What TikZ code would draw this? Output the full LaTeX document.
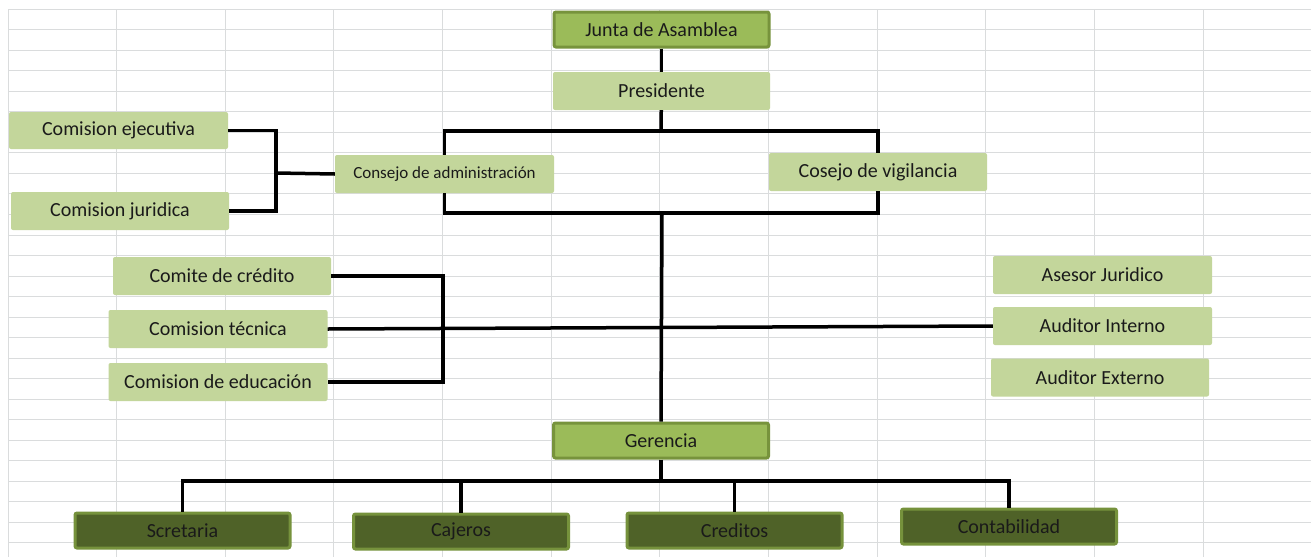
\documentclass[tikz,border=0pt]{standalone}
\usepackage{fontspec}
\setmainfont{Carlito}
\usepackage{xcolor}
\definecolor{gridgray}{HTML}{DADCDD}
\definecolor{palegreen}{HTML}{C3D69B}
\definecolor{midgreen}{HTML}{9BBB59}
\definecolor{midedge}{HTML}{77933C}
\definecolor{darkgreen}{HTML}{4F6228}
\definecolor{darkedge}{HTML}{76923C}
\definecolor{inktext}{HTML}{1A1A1A}
\usetikzlibrary{calc}

\begin{document}
\begin{tikzpicture}[
  x=1pt,y=-1pt,
  every node/.style={font=\fontsize{20}{23}\selectfont,text=inktext,align=center,inner sep=0pt},
  gridline/.style={draw=gridgray,line width=1pt},
  pale/.style={fill=palegreen,rounded corners=2pt,minimum width=218pt,minimum height=38pt},
  mid/.style={fill=midgreen,draw=midedge,line width=3pt,rounded corners=2pt,minimum width=215pt,minimum height=35pt},
  dark/.style={fill=darkgreen,draw=darkedge,line width=3pt,rounded corners=2pt,minimum width=215pt,minimum height=35pt},
  ln/.style={draw=black,line width=3.5pt}
]
\useasboundingbox (0,0) rectangle (1311,557);
\fill[white] (0,0) rectangle (1311,557);
% spreadsheet grid
\foreach \i in {0,...,11} \draw[gridline] ({8+108.65*\i},9.3) -- ({8+108.65*\i},557);
\foreach \j in {0,...,26} \draw[gridline] (8,{9.3+20.52*\j}) -- (1311,{9.3+20.52*\j});

% top of the chart
\node[mid] (junta) at (661.5,29.5) {Junta de Asamblea};
\node[pale,minimum width=217pt] (pres) at (661.5,91) {Presidente};
\node[pale,minimum width=219pt,font=\fontsize{17}{20}\selectfont] (cadm) at (444.5,174) {Consejo de administración};
\node[pale] (cvig) at (878,172) {Cosejo de vigilancia};
\node[pale,minimum width=219pt,minimum height=37pt] (ejec) at (118.5,130.5) {Comision ejecutiva};
\node[pale] (jur) at (120,211) {Comision juridica};

% committees and advisers
\node[pale] (cred) at (222,276) {Comite de crédito};
\node[pale,minimum width=219pt] (tec) at (218,329) {Comision técnica};
\node[pale,minimum width=219pt] (educ) at (218,382) {Comision de educación};
\node[pale,minimum width=219pt] (ases) at (1102.5,275) {Asesor Juridico};
\node[pale,minimum width=219pt] (audi) at (1102.5,326) {Auditor Interno};
\node[pale] (audx) at (1100,377.5) {Auditor Externo};

% management
\node[mid] (ger) at (661,440.5) {Gerencia};
\node[dark] (scr) at (182.5,530.5) {Scretaria};
\node[dark] (caj) at (461,531.5) {Cajeros};
\node[dark] (cre) at (734.5,530.5) {Creditos};
\node[dark] (cont) at (1009,526.5) {Contabilidad};

% connectors
\coordinate (topbar) at (661,131);
\coordinate (botbar) at (662,213);
\coordinate (lbrace) at (276,173);
\coordinate (cbrace) at (443,327);
\coordinate (gbar) at (661,481);
\draw[ln] (junta) -- (pres); \draw[ln] (pres) -- (topbar);
\draw[ln] (cadm.north) |- (topbar) -| (cvig.north);
\draw[ln] (cadm.south) |- (botbar) -| (cvig.south);
\draw[ln] (ejec.east) -| (lbrace) |- (jur.east); \draw[ln] (lbrace) -- (cadm.west);
\draw[ln] (cred.east) -| (cbrace) |- (educ.east);
\draw[ln] (tec.east) -- (audi.west);
\draw[ln] (botbar) -- (ger.north);
\draw[ln] (ger) -- (gbar);
\draw[ln] (scr.north) |- (gbar) -| (cont.north);
\draw[ln] (caj.north) -- (caj.north |- gbar); \draw[ln] (cre.north) -- (cre.north |- gbar);
\end{tikzpicture}
\end{document}
